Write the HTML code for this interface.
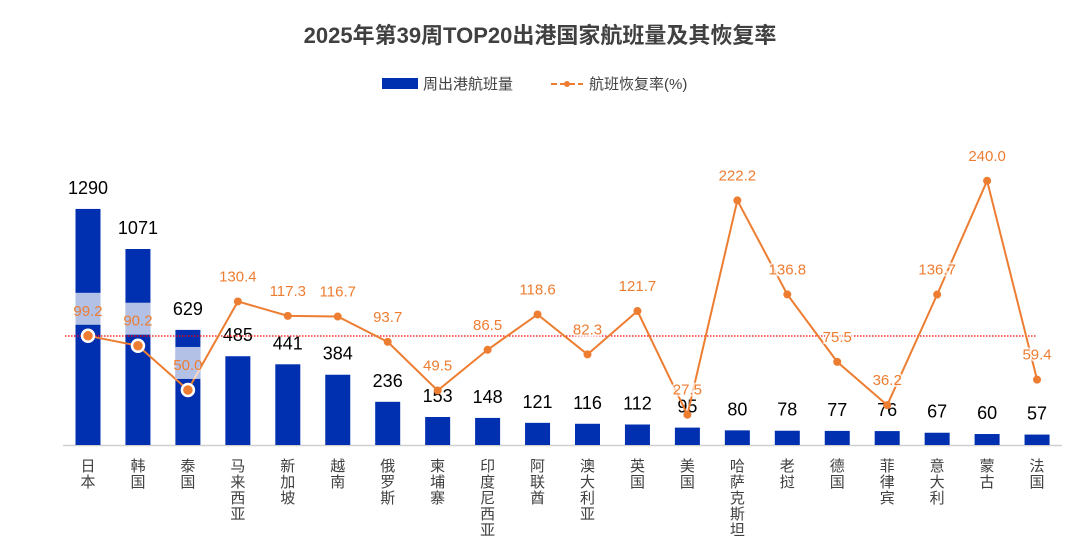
<!DOCTYPE html>
<html><head><meta charset="utf-8"><style>
body{margin:0;background:#fff;}
svg text{font-family:"Liberation Sans","Noto Sans CJK SC",sans-serif;}
</style></head><body>
<svg id="c" width="1080" height="541" xmlns="http://www.w3.org/2000/svg"></svg>
<script>
const names=["日本","韩国","泰国","马来西亚","新加坡","越南","俄罗斯","柬埔寨","印度尼西亚","阿联酋","澳大利亚","英国","美国","哈萨克斯坦","老挝","德国","菲律宾","意大利","蒙古","法国"];
const bars=[1290,1071,629,485,441,384,236,153,148,121,116,112,95,80,78,77,76,67,60,57];
const rates=["99.2","90.2","50.0","130.4","117.3","116.7","93.7","49.5","86.5","118.6","82.3","121.7","27.5","222.2","136.8","75.5","36.2","136.7","240.0","59.4"];
let s='';
s+='<text x="540" y="43" text-anchor="middle" font-size="22" font-weight="bold" fill="#404040">2025年第39周TOP20出港国家航班量及其恢复率</text>';
s+='<rect x="382" y="78" width="36" height="11" fill="#0030B0"/><text x="423" y="89" font-size="15" fill="#404040">周出港航班量</text>';
s+='<line x1="551" y1="84" x2="583" y2="84" stroke="#ED7D31" stroke-width="2" stroke-dasharray="6,3"/><circle cx="567" cy="84" r="3" fill="#ED7D31"/><text x="589" y="89" font-size="15" fill="#404040">航班恢复率(%)</text>';
s+='<line x1="63" y1="445.5" x2="1062" y2="445.5" stroke="#d0d0d0" stroke-width="1.5"/>';
const cx=i=>88+i*49.95;
bars.forEach((v,i)=>{const h=v*0.183;const x=cx(i);
 s+=`<rect x="${x-12.5}" y="${445-h}" width="25" height="${h}" fill="#0030B0"/>`;
 s+=`<text x="${x}" y="${445-h-15}" text-anchor="middle" font-size="18" fill="#000">${v}</text>`;
 [...names[i]].forEach((ch,j)=>{s+=`<text x="${x}" y="${471+j*16}" text-anchor="middle" font-size="15" fill="#404040">${ch}</text>`;});
});
s+='<line x1="65" y1="336" x2="1037" y2="336" stroke="#FF0000" stroke-width="1.3" stroke-dasharray="1.5,1.5"/>';
const ry=v=>445-parseFloat(v)*1.1008;
let pts=rates.map((v,i)=>`${cx(i)},${ry(v)}`).join(' ');
s+=`<polyline points="${pts}" fill="none" stroke="#ED7D31" stroke-width="2"/>`;
rates.forEach((v,i)=>{const x=cx(i),y=ry(v);
 if(i<3){s+=`<rect x="${x-12.5}" y="${y-43}" width="25" height="32" fill="#fff" fill-opacity="0.7"/>`;
  s+=`<circle cx="${x}" cy="${y}" r="6" fill="#ED7D31" stroke="#fff" stroke-width="2.5"/>`;}
 else s+=`<circle cx="${x}" cy="${y}" r="4" fill="#ED7D31"/>`;
 s+=`<text x="${x}" y="${y-20}" text-anchor="middle" font-size="15" fill="#ED7D31" ${i<3?'':'stroke="#fff" stroke-opacity="0.7" stroke-width="4" paint-order="stroke"'}>${v}</text>`;
});
document.getElementById('c').innerHTML=s;
</script>
</body></html>
